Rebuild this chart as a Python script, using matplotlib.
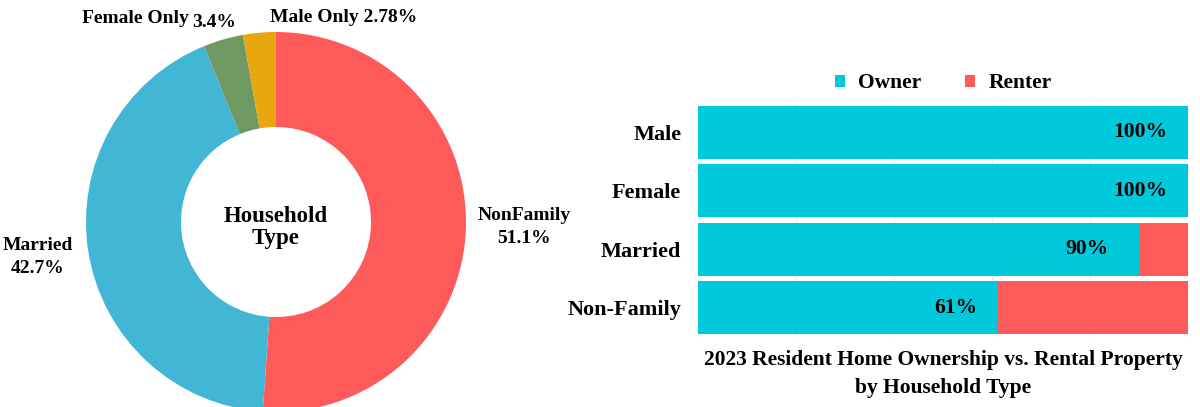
import numpy as np
import matplotlib
matplotlib.use('Agg')
from matplotlib import pyplot as plt

plt.rcParams['font.family'] = ['Liberation Serif', 'DejaVu Serif']
plt.rcParams['font.weight'] = 'bold'

# donut data
pie_labels = ['NonFamily', 'Married', 'Female Only', 'Male Only']
pie_values = [51.1, 42.7, 3.4, 2.78]
pie_colors = ['#FF5A5A', '#42B7D5', '#6E9963', '#E8A70E']

# bar data
bar_cats = ['Male', 'Female', 'Married', 'Non-Family']
owner = [100, 100, 90, 61]
renter = [0, 0, 10, 39]
owner_color = '#00C9DC'
renter_color = '#FF5A5A'

W, H = 1200, 407
fig = plt.figure(figsize=(W / 100, H / 100), dpi=100)

# ---- donut ----
cx, cy, R = 276, 222, 190
ax1 = fig.add_axes([(cx - R) / W, (H - cy - R) / H, 2 * R / W, 2 * R / H])
ax1.pie(pie_values, colors=pie_colors, startangle=90, counterclock=False,
        radius=1, wedgeprops=dict(width=0.5, edgecolor='none'))
ax1.set_xlim(-1, 1)
ax1.set_ylim(-1, 1)
ax1.set_aspect('equal')
ax1.axis('off')
ax1.text(0, -0.03, 'Household\nType', ha='center', va='center', fontsize=16.5,
         fontweight='bold', linespacing=1.05)

def px(x, y):
    return ((x - cx) / R, (cy - y) / R)

fs = 14
ax1.text(*px(524, 227), pie_labels[0] + '\n' + '51.1%', ha='center', va='center',
         fontsize=fs, linespacing=1.5, clip_on=False)
ax1.text(*px(38, 257), pie_labels[1] + '\n' + '42.7%', ha='center', va='center',
         fontsize=fs, linespacing=1.5, clip_on=False)
ax1.text(*px(189, 18), pie_labels[2], ha='right', va='center', fontsize=fs, clip_on=False)
ax1.text(*px(214, 22), '3.4%', ha='center', va='center', fontsize=fs, clip_on=False)
ax1.text(*px(344, 17), pie_labels[3] + ' 2.78%', ha='center', va='center',
         fontsize=fs, clip_on=False)

# ---- bars ----
x0, x1 = 698, 1188
top, bot = 103, 337
ax2 = fig.add_axes([x0 / W, (H - bot) / H, (x1 - x0) / W, (bot - top) / H])
y = np.arange(len(bar_cats))
ax2.barh(y, owner, height=0.9, color=owner_color, label='Owner', zorder=2)
ax2.barh(y, renter, left=owner, height=0.9, color=renter_color, label='Renter', zorder=2)
ax2.set_xlim(0, 100)
ax2.set_ylim(len(bar_cats) - 0.5, -0.5)
ax2.set_yticks(y)
ax2.set_yticklabels(bar_cats, fontsize=16, fontweight='bold')
ax2.tick_params(axis='y', length=0, pad=12)
ax2.set_xticks([20, 40, 60, 80])
ax2.tick_params(axis='x', length=0, labelbottom=False)
ax2.grid(axis='x', color='#eeeeee', linewidth=0.8, zorder=0)
for s in ax2.spines.values():
    s.set_visible(False)

pads = [-15, -15, -22, -14]
for i, v in enumerate(owner):
    ax2.annotate('%d%%' % v, (v, i), xytext=(pads[i], 0), textcoords='offset points',
                 ha='right', va='center', fontsize=15.5, fontweight='bold', zorder=3)

ax2.legend(loc='lower center', bbox_to_anchor=(0.5, 1.0), ncol=2, frameon=False,
           fontsize=15.5, handlelength=0.5, handleheight=0.5, columnspacing=2.0,
           handletextpad=0.6, borderaxespad=0.05)
ax2.set_xlabel('2023 Resident Home Ownership vs. Rental Property\nby Household Type',
               fontsize=15.5, fontweight='bold', labelpad=9, linespacing=1.6)

fig.savefig('out.png', dpi=100)
